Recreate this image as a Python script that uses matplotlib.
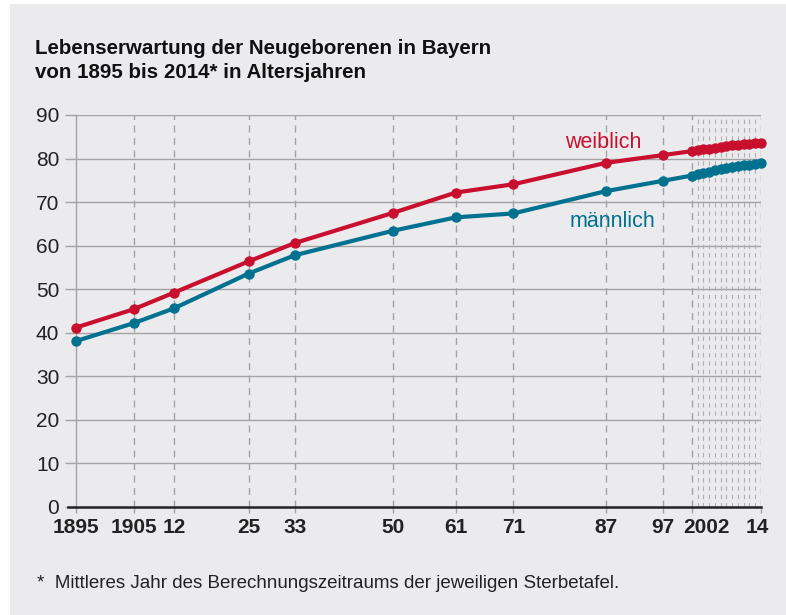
import matplotlib.pyplot as plt
from matplotlib.patches import Rectangle
from matplotlib.transforms import ScaledTranslation

# Jahre (Mitte des Berechnungszeitraums) und Lebenserwartung
years = [1895, 1905, 1912, 1925, 1933, 1950, 1961, 1971, 1987, 1997,
         2002, 2003, 2004, 2005, 2006, 2007, 2008, 2009, 2010, 2011, 2012, 2013, 2014]
weiblich = [41.2, 45.4, 49.2, 56.4, 60.6, 67.5, 72.2, 74.1, 79.0, 80.8,
            81.7, 81.9, 82.1, 82.3, 82.5, 82.7, 82.9, 83.0, 83.1, 83.3, 83.4, 83.5, 83.6]
maennlich = [38.1, 42.2, 45.6, 53.6, 57.8, 63.4, 66.5, 67.4, 72.5, 74.9,
             76.1, 76.4, 76.7, 77.0, 77.3, 77.6, 77.9, 78.1, 78.3, 78.5, 78.6, 78.8, 78.9]

tick_years = [1895, 1905, 1912, 1925, 1933, 1950, 1961, 1971, 1987, 1997, 2002, 2014]
tick_labels = ['1895', '1905', '12', '25', '33', '50', '61', '71', '87', '97', '2002', '14']
dense_years = list(range(2003, 2014))
y_ticks = [0, 10, 20, 30, 40, 50, 60, 70, 80, 90]

RED = '#c8102e'
BLUE = '#00718f'
BG = '#ebebee'
GRID = '#a3a3a3'

plt.rcParams['font.family'] = ['Liberation Sans', 'DejaVu Sans']

fig = plt.figure(figsize=(7.86, 6.15), dpi=100, facecolor='white')
fig.patches.append(Rectangle((10 / 786, 0), 1, 1 - 4 / 615, transform=fig.transFigure,
                             facecolor=BG, edgecolor='none', zorder=-10))
ax = fig.add_axes([76 / 786, 1 - 507 / 615, (761 - 76) / 786, (507 - 115) / 615])
ax.set_facecolor('none')

ax.set_xlim(1895, 2014)
ax.set_ylim(0, 90)

# horizontale Gitterlinien
for v in y_ticks[1:]:
    ax.axhline(v, color=GRID, lw=1.0, zorder=1)
# vertikale gestrichelte Linien
for yr in tick_years[1:]:
    ax.axvline(yr, color=GRID, lw=1.0, ls=(0, (5, 4)), zorder=1)
for yr in dense_years:
    ax.axvline(yr, color='#b0b0b0', lw=0.8, ls=(0, (4, 3.5)), zorder=1)

for s in ['top', 'right']:
    ax.spines[s].set_visible(False)
ax.spines['left'].set_color(GRID)
ax.spines['left'].set_linewidth(1.0)
ax.spines['bottom'].set_color('#222222')
ax.spines['bottom'].set_linewidth(1.8)
ax.spines['bottom'].set_bounds(1895 - 1.4, 2014)

ax.plot(years, weiblich, color=RED, lw=3, marker='o', ms=6.5, zorder=5, clip_on=False)
ax.plot(years, maennlich, color=BLUE, lw=3, marker='o', ms=6.5, zorder=5, clip_on=False)

ax.set_yticks(y_ticks)
ax.set_yticklabels([str(v) for v in y_ticks], fontsize=15, color='#222222')
ax.tick_params(axis='y', length=8, width=1.0, color=GRID, pad=4)
ax.set_xticks(tick_years)
ax.set_xticklabels(tick_labels, fontsize=15, fontweight='bold', color='#222222')
ax.tick_params(axis='x', length=4, width=1.0, color=GRID, pad=4)

# Beschriftungen 2002 und 14 etwas verschieben (wie im Original)
xl = ax.get_xticklabels()
xl[10].set_transform(xl[10].get_transform() + ScaledTranslation(0.15, 0, fig.dpi_scale_trans))
xl[11].set_transform(xl[11].get_transform() + ScaledTranslation(-0.04, 0, fig.dpi_scale_trans))

ax.text(1993.2, 83.6, 'weiblich', color=RED, fontsize=15.5, ha='right', va='center')
ax.text(1995.6, 65.5, 'männlich', color=BLUE, fontsize=15.5, ha='right', va='center')

fig.text(35 / 786, 1 - 48 / 615, 'Lebenserwartung der Neugeborenen in Bayern',
         fontsize=14.8, fontweight='bold', va='center', color='#111111')
fig.text(35 / 786, 1 - 73 / 615, 'von 1895 bis 2014* in Altersjahren',
         fontsize=14.8, fontweight='bold', va='center', color='#111111')
fig.text(37 / 786, 1 - 584 / 615, '*  Mittleres Jahr des Berechnungszeitraums der jeweiligen Sterbetafel.',
         fontsize=13.5, va='center', color='#222222')

fig.savefig('out.png', dpi=100, facecolor='white')
